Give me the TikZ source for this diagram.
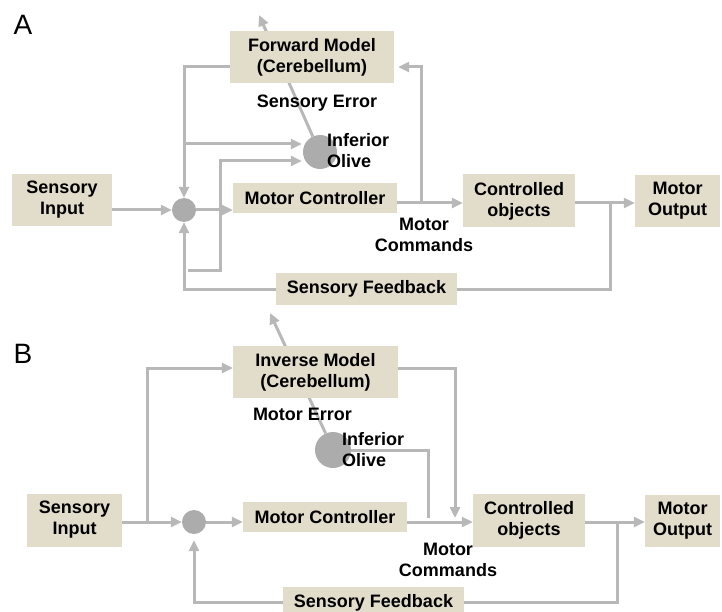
\documentclass[tikz,border=0pt]{standalone}
\usepackage{fontspec}
\setmainfont{Liberation Sans}
\usetikzlibrary{arrows.meta}
\definecolor{boxc}{RGB}{226,220,202}
\definecolor{linec}{RGB}{184,184,184}
\definecolor{dotc}{RGB}{172,172,172}
\newcommand\lblfont{\fontsize{18}{21}\selectfont\bfseries}
\newcommand\panelfont{\fontsize{28}{30}\selectfont}
\pgfdeclarelayer{bg}
\pgfsetlayers{bg,main}
\tikzset{
  box/.style={fill=boxc, draw=none, inner sep=0pt, align=center, font=\lblfont},
  arr/.style={draw=linec, line width=3pt, -{Triangle[length=11pt,width=10pt]}},
  ln/.style={draw=linec, line width=3pt},
  dot/.style={circle, fill=dotc, draw=none, inner sep=0pt},
  lab/.style={font=\lblfont, inner sep=0pt},
  panel/.style={font=\panelfont, inner sep=0pt}
}
\begin{document}
\begin{tikzpicture}[x=1pt,y=-1pt]
\useasboundingbox (0,0) rectangle (722,612);
\clip (0,0) rectangle (722,612);
% ---------- Panel A ----------
\node[panel] (pA) at (23,25) {A};
\node[box, minimum width=100pt, minimum height=52pt] (sia) at (62,200) {Sensory\\Input};
\node[dot, minimum size=24pt] (ja) at (184,210) {};
\node[box, minimum width=164pt, minimum height=30pt] (mca) at (315,198) {Motor Controller};
\node[box, minimum width=164pt, minimum height=52pt] (fma) at (312,57) {Forward Model\\(Cerebellum)};
\node[dot, minimum size=34pt] (oa) at (320,152) {};
\node[box, minimum width=112pt, minimum height=53pt] (coa) at (519,201) {Controlled\\objects};
\node[box, minimum width=85pt, minimum height=52pt] (moa) at (677.5,201) {Motor\\Output};
\node[box, minimum width=181pt, minimum height=32pt] (sfa) at (366.5,289) {Sensory Feedback};
\node[lab, anchor=base] (sea) at (317,108) {Sensory Error};
\node[lab, anchor=west, align=left] (ioa) at (327,151) {Inferior\\Olive};
\node[lab, align=center] (mcma) at (424,234.5) {Motor\\Commands};
\coordinate (tipa) at (259,15);
\coordinate (bra) at (421,203);
\coordinate (fba) at (610,203);
\coordinate (stub) at (188,270);
\begin{pgfonlayer}{bg}
\draw[arr] (sia.east |- 0,210) -- (ja.west);
\draw[arr] (ja.east) -- (mca.west |- ja.east);
\draw[arr] (mca.east |- 0,203) -- (coa.west |- 0,203);
\draw[arr] (coa.east |- 0,203) -- (moa.west |- 0,203);
\draw[arr, shorten >=4pt] (bra) -- (421,67) -- (fma.east |- 0,67);
\draw[arr] (fma.west |- 0,67) -| (ja.north);
\draw[arr, shorten >=1pt] (184,144) -- (oa.west |- 0,144);
\draw[arr, shorten >=1pt] (stub) -- (220,270) -- (220,161) -- (oa.west |- 0,161);
\draw[ln] (fba) |- (sfa.east);
\draw[arr] (sfa.west) -| (ja.south);
\draw[arr] (oa.115) -- (tipa);
\end{pgfonlayer}
% ---------- Panel B ----------
\node[panel] (pB) at (23,354) {B};
\node[box, minimum width=95pt, minimum height=53pt] (sib) at (74.5,520) {Sensory\\Input};
\node[dot, minimum size=24pt] (jb) at (194,522) {};
\node[box, minimum width=164pt, minimum height=30pt] (mcb) at (325,517) {Motor Controller};
\node[box, minimum width=165pt, minimum height=52pt] (imb) at (315.5,372) {Inverse Model\\(Cerebellum)};
\node[dot, minimum size=36pt] (ob) at (333,450) {};
\node[box, minimum width=112pt, minimum height=53pt] (cob) at (529,520.5) {Controlled\\objects};
\node[box, minimum width=75pt, minimum height=52pt] (mob) at (682.5,521) {Motor\\Output};
\node[box, minimum width=181pt, minimum height=32pt] (sfb) at (373.5,602.5) {Sensory Feedback};
\node[lab, anchor=base] (meb) at (302.5,420) {Motor Error};
\node[lab, anchor=west, align=left] (iob) at (342,450) {Inferior\\Olive};
\node[lab, align=center] (mcmb) at (448,560) {Motor\\Commands};
\coordinate (tipb) at (270,313);
\coordinate (brb) at (147,522);
\coordinate (fbb) at (617,522);
\begin{pgfonlayer}{bg}
\draw[arr] (sib.east |- 0,522) -- (jb.west);
\draw[arr] (brb) |- (imb.west |- 0,368);
\draw[arr] (jb.east) -- (mcb.west |- 0,522);
\draw[arr] (mcb.east |- 0,522) -- (cob.west |- 0,522);
\draw[ln] (ob.east) -- (428,450) -- (428,518);
\draw[arr] (imb.east |- 0,368) -| (455,518);
\draw[arr] (cob.east |- 0,522) -- (mob.west |- 0,522);
\draw[ln] (fbb) |- (sfb.east);
\draw[arr, shorten >=6pt] (sfb.west) -| (jb.south);
\draw[arr] (ob.114) -- (tipb);
\end{pgfonlayer}
\end{tikzpicture}
\end{document}
